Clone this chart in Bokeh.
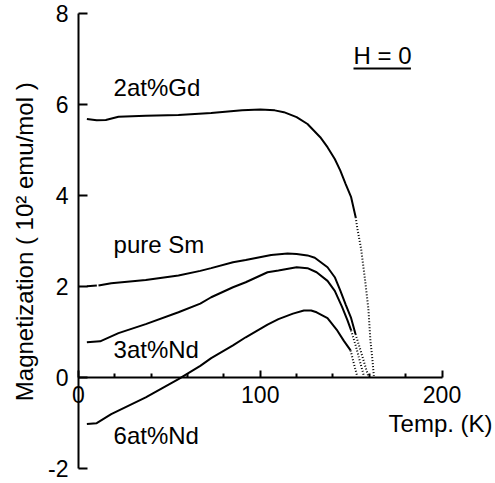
from math import pi
from bokeh.plotting import figure
from bokeh.models import Range1d, LinearAxis, FixedTicker, Label
from bokeh.embed import file_html
from bokeh.resources import INLINE

# ---- data ----
gd_T = [4.6, 10, 15, 22, 37, 55, 73, 90, 100, 108, 113, 120, 126, 133, 137, 141, 144, 147, 150, 152.5]
gd_M = [5.68, 5.65, 5.66, 5.73, 5.75, 5.77, 5.81, 5.87, 5.89, 5.87, 5.83, 5.72, 5.57, 5.28, 5.06, 4.80, 4.55, 4.25, 3.96, 3.52]
gd_tail_T = [152.5, 153.3, 155.5, 157.6, 159.5, 160.6, 161.8, 162.5]
gd_tail_M = [3.52, 3.30, 2.82, 2.16, 1.50, 0.81, 0.35, 0.03]

sm_T = [4.6, 11, 18, 37, 55, 67, 73, 85, 92, 106, 115, 120, 126, 130, 137, 141, 144, 147, 150, 152.4]
sm_M = [2.00, 2.02, 2.07, 2.14, 2.24, 2.34, 2.40, 2.53, 2.58, 2.69, 2.72, 2.71, 2.68, 2.63, 2.42, 2.20, 1.91, 1.60, 1.30, 0.95]
sm_tail_T = [152.4, 155.2, 157.5, 159.4]
sm_tail_M = [0.95, 0.59, 0.28, 0.03]

nd3_T = [4.6, 11.9, 22, 37, 55, 67, 73, 85, 92, 104, 110, 120, 126, 131, 137, 141, 145, 148, 150]
nd3_M = [0.77, 0.79, 0.97, 1.17, 1.43, 1.62, 1.76, 1.98, 2.09, 2.31, 2.35, 2.42, 2.40, 2.31, 2.12, 1.90, 1.55, 1.25, 1.03]
nd3_tail_T = [150, 152.5, 154.5, 157]
nd3_tail_M = [1.03, 0.70, 0.40, 0.03]

nd6_T = [4.6, 10, 18, 37, 55, 67, 73, 85, 92, 104, 110, 118, 124, 128, 131, 137, 142, 146, 149.7]
nd6_M = [-1.03, -1.01, -0.81, -0.44, -0.04, 0.25, 0.42, 0.70, 0.88, 1.16, 1.28, 1.40, 1.47, 1.47, 1.43, 1.30, 1.05, 0.80, 0.59]
nd6_tail_T = [149.7, 151.5, 153.3]
nd6_tail_M = [0.59, 0.30, 0.03]

series_names = ["2at%Gd", "pure Sm", "3at%Nd", "6at%Nd"]
x_ticks = [0, 100, 200]
x_minor = [20, 40, 60, 80, 120, 140, 160, 180]
y_ticks = [-2, 0, 2, 4, 6, 8]

FONT = "Liberation Sans"
FS = "24px"
TICK_FS = "23px"

p = figure(width=493, height=481,
           x_range=Range1d(-42.92, 228.33), y_range=Range1d(-2.292, 8.286),
           x_axis_location=None, y_axis_location=None,
           toolbar_location=None, output_backend="svg", min_border=0)
p.outline_line_color = None
p.grid.visible = False

# axes crossing at zero
yax = LinearAxis(fixed_location=0, bounds=(-2, 8), ticker=FixedTicker(ticks=y_ticks, minor_ticks=[]))
yax.major_label_overrides = {-2: "-2"}
xax = LinearAxis(fixed_location=0, bounds=(0, 200), ticker=FixedTicker(ticks=x_ticks, minor_ticks=x_minor))
for ax in (xax, yax):
    ax.axis_line_width = 2
    ax.axis_line_color = "black"
    ax.major_tick_line_width = 2
    ax.minor_tick_line_width = 2
    ax.major_tick_line_color = "black"
    ax.minor_tick_line_color = "black"
    ax.major_tick_out = 0
    ax.minor_tick_out = 0
    ax.major_label_text_font = FONT
    ax.major_label_text_font_size = TICK_FS
    ax.major_label_text_color = "black"
yax.major_tick_in = 9
yax.minor_tick_in = 0
yax.major_label_standoff = 10
xax.major_tick_in = 7
xax.minor_tick_in = 4
xax.major_label_standoff = 9
p.add_layout(yax, "left")
p.add_layout(xax, "below")

# curves
for T, M in [(gd_T, gd_M), (sm_T[1:], sm_M[1:]), (nd3_T, nd3_M), (nd6_T, nd6_M)]:
    p.line(T, M, line_color="black", line_width=2)
p.line(sm_T[:2], sm_M[:2], line_color="black", line_width=2, line_dash="10 3")
for T, M in [(gd_tail_T, gd_tail_M), (sm_tail_T, sm_tail_M), (nd3_tail_T, nd3_tail_M), (nd6_tail_T, nd6_tail_M)]:
    p.line(T, M, line_color="black", line_width=2, line_dash="1 2")

# series labels (vertically centred on the anchor)
label_pos = [(19.3, 6.38), (19.3, 2.93), (19.3, 0.618), (19.3, -1.273)]
for name, (lx, ly) in zip(series_names, label_pos):
    p.add_layout(Label(x=lx, y=ly, text=name, text_font=FONT, text_font_size=FS,
                       text_baseline="middle", text_align="left", text_color="black"))

p.add_layout(Label(x=151.3, y=7.08, text="H = 0", text_font=FONT, text_font_size=FS,
                   text_baseline="middle", text_align="left", text_color="black"))
p.segment(x0=[151.3], y0=[6.79], x1=[182.9], y1=[6.79], line_color="black", line_width=2)

p.add_layout(Label(x=170.6, y=-1.01, text="Temp. (K)", text_font=FONT, text_font_size=FS,
                   text_baseline="middle", text_align="left", text_color="black"))
p.add_layout(Label(x=-29.5, y=2.98, text="Magnetization ( 10² emu/mol )", angle=pi / 2,
                   text_font=FONT, text_font_size=FS,
                   text_baseline="middle", text_align="center", text_color="black"))

open("out.html", "w").write(file_html(p, INLINE))
